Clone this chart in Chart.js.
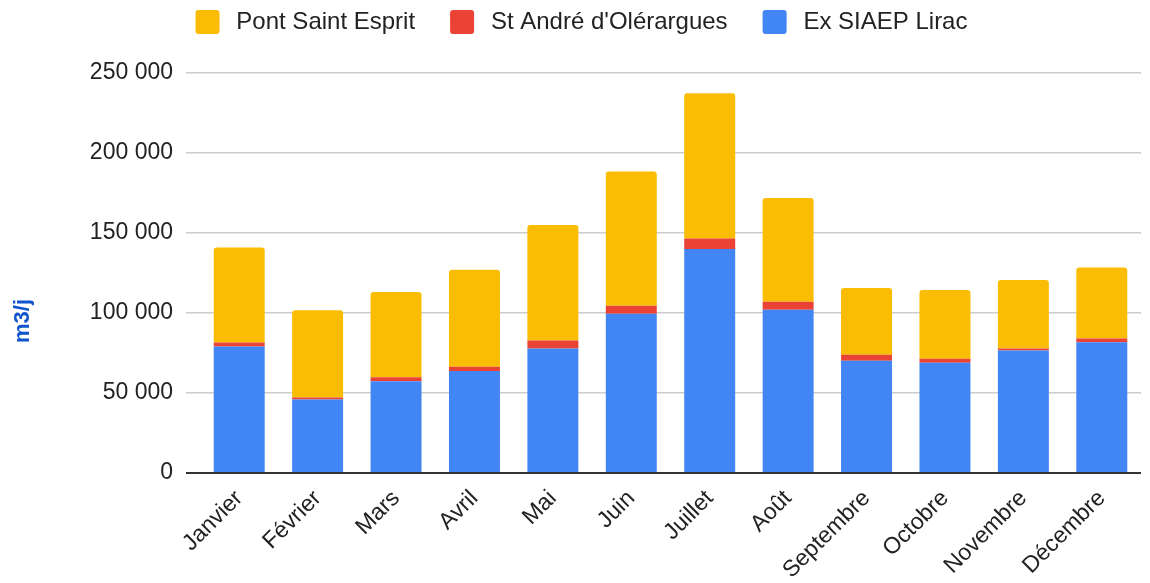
<!DOCTYPE html>
<html lang="fr">
<head>
<meta charset="UTF-8">
<title>m3/j par mois</title>
<style>
  body { margin: 0; background: #fff; }
  #wrap { width: 1150px; height: 583px; }
</style>
</head>
<body>
<div id="wrap"><canvas id="myChart"></canvas></div>
<script src="https://cdn.jsdelivr.net/npm/chart.js"></script>
<script>
const v_months = ["Janvier", "Février", "Mars", "Avril", "Mai", "Juin", "Juillet", "Août", "Septembre", "Octobre", "Novembre", "Décembre"];
const v_lirac = [79000, 46000, 57400, 63700, 77800, 99500, 140000, 102000, 70100, 68900, 76600, 81700];
const v_standre = [2500, 1200, 2500, 2700, 5000, 5000, 6500, 5100, 3800, 2500, 1200, 2400];
const v_pontSE = [59500, 54500, 53300, 60700, 72200, 83900, 90900, 64700, 41800, 43000, 42900, 44300];

const FONT = "'Liberation Sans', Arial, sans-serif";

// espace entre milliers : 250 000
function fmt(v) {
    return String(v).replace(/\B(?=(\d{3})+(?!\d))/g, " ");
}

// titre vertical m3/j + un peu d'espace sous la légende
const extras = {
    id: "extras",
    beforeInit(chart) {
        const fit = chart.legend.fit;
        chart.legend.fit = function () {
            fit.bind(chart.legend)();
            this.height += 29;
        };
    },
    afterLayout(chart) {
        // légende un peu décalée vers la droite
        chart.legend.left += 22;
    },
    afterDraw(chart) {
        const c = chart.ctx;
        c.save();
        c.translate(23, 321);
        c.rotate(-Math.PI / 2);
        c.font = "bold 22px " + FONT;
        c.fillStyle = "#1155cc";
        c.textAlign = "center";
        c.textBaseline = "middle";
        c.fillText("m3/j", 0, 0);
        c.restore();
    }
};

new Chart(document.getElementById("myChart"), {
    type: "bar",
    data: {
        labels: v_months,
        datasets: [
            { label: "Ex SIAEP Lirac", data: v_lirac, backgroundColor: "#4285f4" },
            { label: "St André d'Olérargues", data: v_standre, backgroundColor: "#ea4335" },
            {
                label: "Pont Saint Esprit", data: v_pontSE, backgroundColor: "#fbbc04",
                borderRadius: { topLeft: 3, topRight: 3, bottomLeft: 0, bottomRight: 0 },
                borderSkipped: "bottom"
            }
        ]
    },
    options: {
        responsive: true,
        maintainAspectRatio: false,
        animation: false,
        layout: { padding: { right: 9, top: -25 } },
        datasets: { bar: { categoryPercentage: 1, barPercentage: 0.65 } },
        plugins: {
            tooltip: { enabled: false },
            legend: {
                reverse: true,
                labels: {
                    boxWidth: 24,
                    boxHeight: 24,
                    padding: 35,
                    color: "#222",
                    font: { family: FONT, size: 24 },
                    useBorderRadius: true,
                    borderRadius: 3,
                    // petit espace fin entre la case et le texte
                    generateLabels(chart) {
                        const items = Chart.defaults.plugins.legend.labels.generateLabels(chart);
                        items.forEach(it => { it.text = "\u2009" + it.text; });
                        return items;
                    }
                }
            }
        },
        scales: {
            x: {
                stacked: true,
                grid: { display: false },
                border: { display: false },
                afterFit(scale) { scale.height = 110; },
                ticks: {
                    minRotation: 45,
                    maxRotation: 45,
                    autoSkip: false,
                    padding: 4,
                    color: "#222",
                    font: { family: FONT, size: 23 }
                }
            },
            y: {
                stacked: true,
                min: 0,
                max: 250000,
                afterFit(scale) { scale.width = 200; },
                border: { display: false },
                grid: {
                    color: (ctx) => ctx.tick && ctx.tick.value === 0 ? "#333" : "#cccccc",
                    lineWidth: (ctx) => ctx.tick && ctx.tick.value === 0 ? 2 : 1.5,
                    drawTicks: true,
                    tickLength: 14
                },
                ticks: {
                    stepSize: 50000,
                    padding: 13,
                    color: "#222",
                    font: { family: FONT, size: 23 },
                    callback: (v) => fmt(v)
                }
            }
        }
    },
    plugins: [extras]
});
</script>
</body>
</html>
